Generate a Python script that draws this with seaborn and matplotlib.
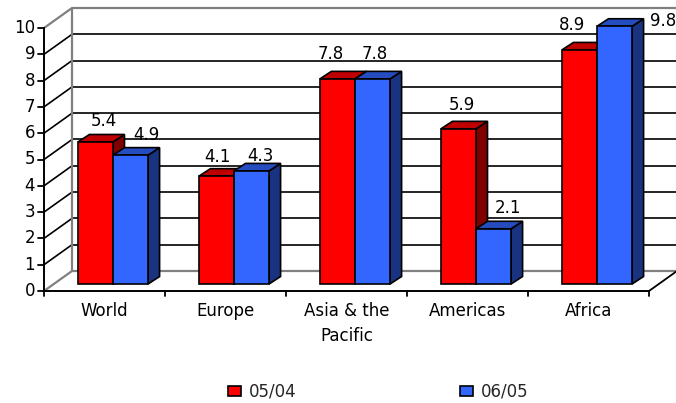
import matplotlib
matplotlib.use("Agg")
import matplotlib.pyplot as plt
import seaborn as sns
import pandas as pd
from matplotlib.patches import Polygon, Patch
from matplotlib.colors import to_rgb

# ---- data -------------------------------------------------------------
categories = ["World", "Europe", "Asia & the\nPacific", "Americas", "Africa"]
series_names = ["05/04", "06/05"]
values_0504 = [5.4, 4.1, 7.8, 5.9, 8.9]
values_0605 = [4.9, 4.3, 7.8, 2.1, 9.8]
y_ticks = list(range(0, 11))

series_colors = {"05/04": "#FF0000", "06/05": "#3366FF"}

df = pd.DataFrame({
    "region": categories * 2,
    "period": [s for s in series_names for _ in categories],
    "value": values_0504 + values_0605,
})

# ---- style ------------------------------------------------------------
sns.set_theme(style="white")
plt.rcParams["font.family"] = ["DejaVu Sans"]
FS = 12

W, H = 676, 403
fig = plt.figure(figsize=(W / 100, H / 100), dpi=100)
ax = fig.add_axes([0, 0, 1, 1])

# pixel <-> data helpers (one category = CAT_PX px, one unit = VAL_PX px)
CAT_PX, VAL_PX = 121.0, 26.3
X0_PX, Y0_PX = 113.0, 284.0


def px_dx(p):
    return p / CAT_PX


def px_dy(p):
    return p / VAL_PX


sns.barplot(data=df, x="region", y="value", hue="period",
            order=categories, hue_order=series_names,
            palette=series_colors, saturation=1, width=0.58,
            edgecolor="black", linewidth=1.2, legend=False, ax=ax)

ax.set_xlim(-X0_PX / CAT_PX, (W - X0_PX) / CAT_PX)
ax.set_ylim(-(H - Y0_PX) / VAL_PX, Y0_PX / VAL_PX)
ax.axis("off")

# oblique offsets of the front plane, back wall and bar depth
fx, fy = px_dx(-8.5), px_dy(-7)
wx, wy = px_dx(19.5), px_dy(13)
bdx, bdy = px_dx(11.5), px_dy(7.5)

left, right = -0.5, len(categories) - 0.5
GRAY, BLACK = "#808080", "black"

# back wall grid and side-wall diagonals
for v in y_ticks:
    c = GRAY if v in (y_ticks[0], y_ticks[-1]) else BLACK
    lw = 1.6 if c == GRAY else 1.2
    ax.plot([left + wx, right + wx], [v + wy, v + wy], color=c, lw=lw,
            zorder=1, solid_capstyle="butt")
    ax.plot([left + fx, left + wx], [v + fy, v + wy], color=c, lw=lw,
            zorder=1, solid_capstyle="butt")
ax.plot([left + wx] * 2, [wy, y_ticks[-1] + wy], color=GRAY, lw=1.6, zorder=1)

# floor edges
ax.plot([left + fx, right + fx], [fy, fy], color=BLACK, lw=1.4, zorder=2)
ax.plot([right + fx, right + wx], [fy, wy], color=BLACK, lw=1.3, zorder=2)

# front value axis with ticks and labels
ax.plot([left + fx] * 2, [fy, y_ticks[-1] + fy], color=BLACK, lw=1.4, zorder=2)
for v in y_ticks:
    ax.plot([left + fx - px_dx(6), left + fx], [v + fy] * 2, color=BLACK,
            lw=1.3, zorder=2)
    ax.text(left + fx - px_dx(9), v + fy, str(v), ha="right", va="center",
            fontsize=FS, color="black")

# category ticks and labels along the front floor edge
for k in range(len(categories) + 1):
    ax.plot([k - 0.5 + fx] * 2, [fy, fy - px_dy(5)], color=BLACK, lw=1.3,
            zorder=2)
for i, cat in enumerate(categories):
    ax.text(i + fx, fy - px_dy(11), cat, ha="center", va="top",
            fontsize=FS, linespacing=1.5, color="black")

# give every bar a top and a side face
bars = sorted([p for p in ax.patches if p.get_height() > 0],
              key=lambda p: p.get_x())
for idx, p in enumerate(bars):
    x0, w, h = p.get_x(), p.get_width(), p.get_height()
    base = to_rgb(p.get_facecolor())
    top_c = tuple(c * 0.75 for c in base)
    side_c = tuple(c * 0.5 for c in base)
    z = 5 + idx * 3
    top = Polygon([(x0, h), (x0 + w, h), (x0 + w + bdx, h + bdy),
                   (x0 + bdx, h + bdy)], closed=True, facecolor=top_c,
                  edgecolor="black", lw=1.2, zorder=z)
    side = Polygon([(x0 + w, 0), (x0 + w, h), (x0 + w + bdx, h + bdy),
                    (x0 + w + bdx, bdy)], closed=True, facecolor=side_c,
                   edgecolor="black", lw=1.2, zorder=z)
    ax.add_patch(side)
    ax.add_patch(top)
    p.set_zorder(z + 1)

# value labels (pixel nudges from the top-front centre of each bar)
label_nudge_px = {
    "05/04": [(8, 21), (1, 19), (-7, 25), (3, 24), (-7, 25)],
    "06/05": [(16, 20), (9, 15), (2, 25), (14, 21), (49, 5)],
}
series_values = {"05/04": values_0504, "06/05": values_0605}
half = 0.58 / 4
for s_i, s in enumerate(series_names):
    for i, v in enumerate(series_values[s]):
        cx = i + (-half if s_i == 0 else half)
        ndx, ndy = label_nudge_px[s][i]
        ax.text(cx + px_dx(ndx), v + px_dy(ndy), f"{v:.1f}", ha="center",
                va="center", fontsize=FS, color="black", zorder=50)

# legend
handles = [Patch(facecolor=series_colors[s], edgecolor="black", lw=1.2)
           for s in series_names]
fig.legend(handles, series_names, loc="center",
           bbox_to_anchor=(378 / W, 1 - 392 / H), ncol=2, frameon=False,
           fontsize=FS, handlelength=0.8, handleheight=0.6,
           handletextpad=0.45, columnspacing=9.8, borderaxespad=0)

fig.savefig("out.png", dpi=100)
